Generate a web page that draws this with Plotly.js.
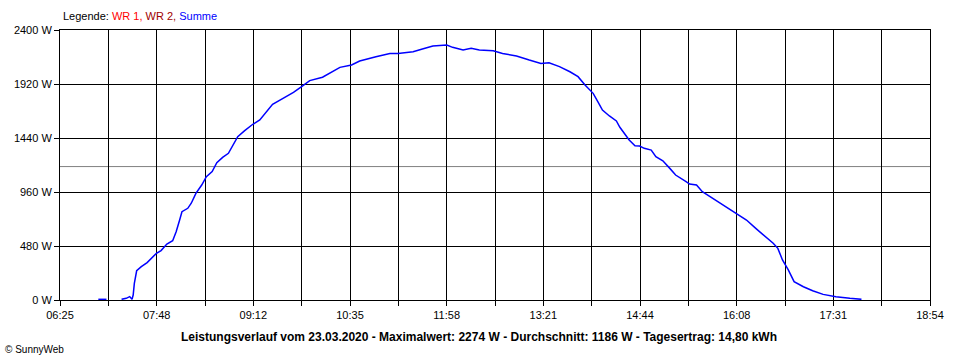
<!DOCTYPE html>
<html>
<head>
<meta charset="utf-8">
<script src="https://cdn.plot.ly/plotly-3.0.1.min.js"></script>
<style>
  html, body { margin: 0; padding: 0; background: #ffffff; }
  #chart { width: 960px; height: 360px; }
</style>
</head>
<body>
<div id="chart"></div>
<script>
// Time of day (HH:MM) and power of the "Summe" series (W)
const times = ["06:58","07:05","07:10","07:18","07:22","07:25","07:27","07:28","07:29","07:31","07:35","07:40","07:44","07:48","07:52","07:57","08:02","08:05","08:08","08:10","08:15","08:18","08:22","08:27","08:31","08:36","08:40","08:45","08:50","08:54","08:58","09:04","09:11","09:17","09:23","09:28","09:37","09:46","09:53","10:00","10:11","10:20","10:26","10:36","10:43","10:57","11:09","11:16","11:29","11:37","11:46","11:58","12:03","12:12","12:19","12:26","12:38","12:46","12:58","13:09","13:19","13:26","13:35","13:44","13:51","13:57","14:04","14:08","14:12","14:18","14:24","14:27","14:31","14:35","14:40","14:44","14:48","14:54","14:58","15:04","15:10","15:15","15:24","15:27","15:33","15:38","15:47","15:56","16:07","16:16","16:24","16:31","16:39","16:43","16:47","16:52","16:57","17:05","17:13","17:22","17:33","17:45","17:55"];
const summe = [6,6,null,6,15,30,6,44,148,260,296,332,370,415,439,498,527,607,711,785,815,860,948,1022,1096,1141,1220,1268,1304,1378,1452,1505,1562,1600,1680,1739,1793,1846,1896,1950,1980,2029,2068,2089,2124,2162,2192,2192,2207,2231,2258,2267,2246,2222,2237,2222,2216,2192,2169,2133,2103,2109,2074,2029,1985,1911,1837,1763,1689,1636,1591,1535,1481,1422,1371,1369,1348,1333,1274,1238,1170,1111,1052,1031,1022,963,904,844,770,711,637,578,504,459,356,267,163,118,82,50,29,15,6];

// Axis labels
const xTickLabels = ["06:25","07:48","09:12","10:35","11:58","13:21","14:44","16:08","17:31","18:54"];
const yTickValues = [0,480,960,1440,1920,2400];
const yTickLabels = ["0 W","480 W","960 W","1440 W","1920 W","2400 W"];
const average = 1186;
const titleText = "Leistungsverlauf vom 23.03.2020 - Maximalwert: 2274 W - Durchschnitt: 1186 W - Tagesertrag: 14,80 kWh";

function toMin(s) { const p = s.split(":"); return +p[0] * 60 + +p[1]; }
const xStart = toMin(xTickLabels[0]);
const xEnd = toMin(xTickLabels[xTickLabels.length - 1]);
const nGrid = (xTickLabels.length - 1) * 2;
const step = (xEnd - xStart) / nGrid;
const xTickVals = [], xTickText = [];
for (let i = 0; i <= nGrid; i++) {
  xTickVals.push(xStart + i * step);
  xTickText.push(i % 2 === 0 ? xTickLabels[i / 2] : "");
}

const font = "Liberation Sans, Arial, sans-serif";

const trace = {
  x: times.map(toMin),
  y: summe,
  type: "scatter",
  mode: "lines",
  line: { color: "#0000ff", width: 1.5 },
  connectgaps: false,
  hoverinfo: "skip"
};

const layout = {
  width: 960, height: 360,
  margin: { l: 60, r: 30, t: 30, b: 60 },
  paper_bgcolor: "#ffffff",
  plot_bgcolor: "#ffffff",
  showlegend: false,
  font: { family: font, size: 11, color: "#000000" },
  xaxis: {
    range: [xStart, xEnd],
    tickmode: "array",
    tickvals: xTickVals,
    ticktext: xTickText,
    showgrid: true, gridcolor: "#000000", gridwidth: 1,
    showline: true, linecolor: "#000000", linewidth: 1, mirror: true,
    ticks: "outside", ticklen: 5, tickcolor: "#000000", tickwidth: 1,
    zeroline: false,
    tickfont: { family: font, size: 11, color: "#000000" },
    fixedrange: true
  },
  yaxis: {
    range: [0, 2400],
    tickmode: "array",
    tickvals: yTickValues,
    ticktext: yTickLabels,
    showgrid: true, gridcolor: "#000000", gridwidth: 1,
    showline: true, linecolor: "#000000", linewidth: 1, mirror: true,
    ticks: "outside", ticklen: 5, tickcolor: "#000000", tickwidth: 1,
    zeroline: false,
    tickfont: { family: font, size: 11, color: "#000000" },
    fixedrange: true
  },
  shapes: [{
    type: "line", xref: "paper", yref: "y",
    x0: 0, x1: 1, y0: average, y1: average,
    line: { color: "#808080", width: 1 },
    layer: "below"
  }],
  annotations: [
    {
      xref: "paper", yref: "paper", x: 0, y: 1, xanchor: "left", yanchor: "bottom",
      xshift: 1, yshift: 6,
      text: 'Legende: <span style="color:#ff0000">WR 1, </span><span style="color:#a00000">WR 2, </span><span style="color:#0000ff">Summe</span>',
      showarrow: false, font: { family: font, size: 11, color: "#000000" }
    },
    {
      xref: "paper", yref: "paper", x: 0.482, y: 0, xanchor: "center", yanchor: "top",
      yshift: -28,
      text: "<b>" + titleText + "</b>",
      showarrow: false, font: { family: font, size: 12, color: "#000000" }
    },
    {
      xref: "paper", yref: "paper", x: 0, y: 0, xanchor: "left", yanchor: "top",
      xshift: -57, yshift: -42,
      text: "© SunnyWeb",
      showarrow: false, font: { family: font, size: 10, color: "#000000" }
    }
  ]
};

Plotly.newPlot("chart", [trace], layout, { displayModeBar: false, staticPlot: true });
</script>
</body>
</html>
